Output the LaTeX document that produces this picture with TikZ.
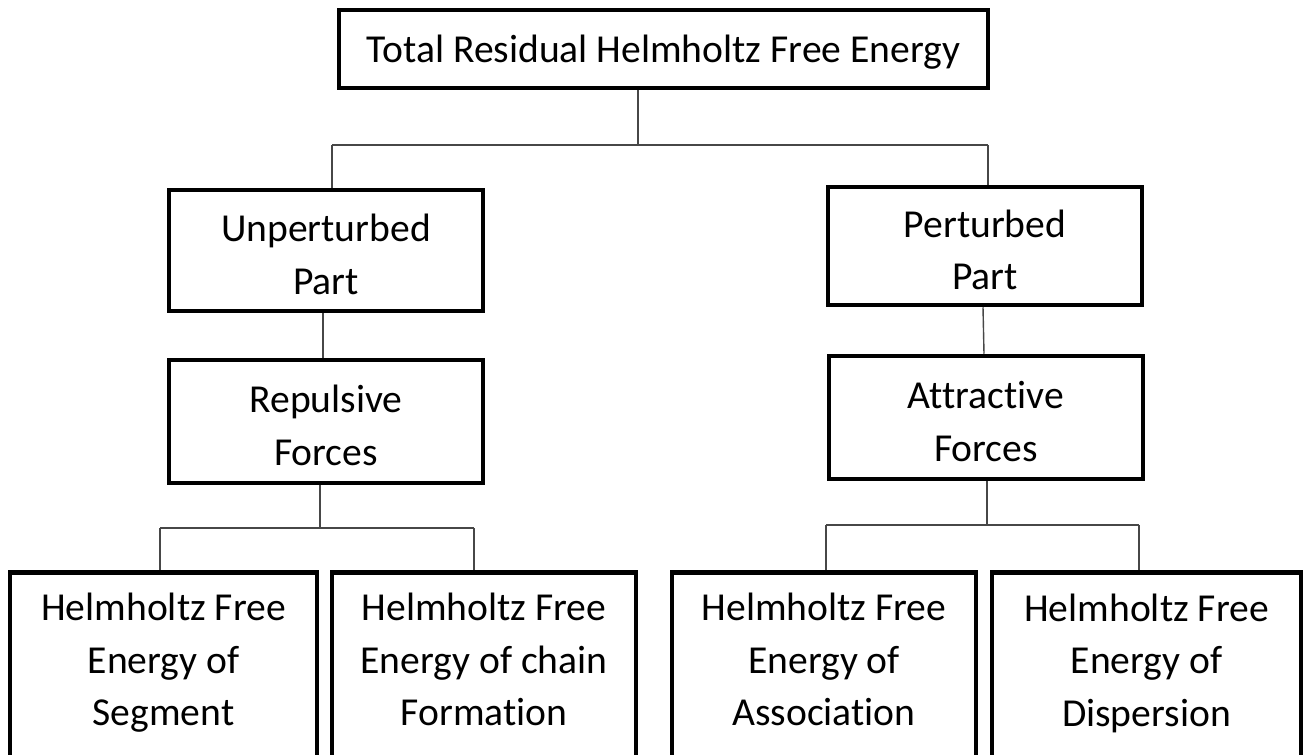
\documentclass[tikz,border=0pt]{standalone}
\usepackage{fontspec}
\setmainfont{Carlito}[Ligatures=NoCommon]
\begin{document}
\begin{tikzpicture}[x=1pt,y=-1pt,
  box/.style={draw=black, line width=4.5pt, fill=white, inner sep=0pt},
  lbl/.style={inner sep=0pt, align=center, font=\fontsize{39.6}{52.5}\selectfont},
  link/.style={draw=black!72, line width=1.4pt}]
\useasboundingbox (0,0) rectangle (1307,755);
\clip (0,0) rectangle (1307,755);
\fill[white] (0,0) rectangle (1307,755);

% root
\node[box, minimum width=649pt, minimum height=78pt] (total) at (663.5,49) {};

% second level
\node[box, minimum width=314pt, minimum height=121pt] (unpert) at (326,250.5) {};
\node[box, minimum width=314pt, minimum height=118pt] (pert) at (985,246) {};

% third level
\node[box, minimum width=314pt, minimum height=123pt] (rep) at (326,421.5) {};
\node[box, minimum width=314pt, minimum height=123pt] (attr) at (986,417.5) {};

% leaves (running past the lower edge)
\node[box, minimum width=307pt, minimum height=240pt, anchor=north] (seg) at (163.5,570) {};
\node[box, minimum width=304pt, minimum height=240pt, anchor=north] (chain) at (484,570) {};
\node[box, minimum width=304pt, minimum height=240pt, anchor=north] (assoc) at (824,570) {};
\node[box, minimum width=309pt, minimum height=240pt, anchor=north] (disp) at (1146.5,570) {};

% labels
\node[lbl] at ([yshift=-3pt]total.center) {Total Residual Helmholtz Free Energy};
\node[lbl] at ([yshift=-4pt]unpert.center) {Unperturbed\\Part};
\node[lbl] at ([yshift=-4pt]pert.center) {Perturbed\\Part};
\node[lbl] at ([yshift=-4pt]rep.center) {Repulsive\\Forces};
\node[lbl] at ([yshift=-4pt]attr.center) {Attractive\\Forces};
\node[lbl] at ([yshift=-93pt]seg.north) {Helmholtz Free\\Energy of\\Segment};
\node[lbl] at ([yshift=-93pt]chain.north) {Helmholtz Free\\Energy of chain\\Formation\vphantom{g}};
\node[lbl] at ([yshift=-93pt]assoc.north) {Helmholtz Free\\Energy of\\Association\vphantom{g}};
\node[lbl] at ([yshift=-93pt]disp.north) {Helmholtz Free\\Energy of\\Dispersion};

% branch points
\coordinate (t0) at (638,145);
\coordinate (tl) at (332,145);
\coordinate (tr) at (988,145);
\coordinate (r0) at (320,528);
\coordinate (rl) at (160,528);
\coordinate (rr) at (474,528);
\coordinate (a0) at (987,525);
\coordinate (al) at (826,525);
\coordinate (ar) at (1139,525);

% connectors
\draw[link] (total.south -| t0) -- (t0);
\draw[link] (tl) -- (tr);
\draw[link] (tl) -- (tl |- unpert.north);
\draw[link] (tr) -- (tr |- pert.north);

\draw[link] ([xshift=-3pt]unpert.south) -- ([xshift=-3pt]rep.north);
\draw[link] ([xshift=-2pt]pert.south) -- ([xshift=-2pt]attr.north);

\draw[link] (rep.south -| r0) -- (r0);
\draw[link] (rl) -- (rr);
\draw[link] (rl) -- (rl |- seg.north);
\draw[link] (rr) -- (rr |- chain.north);

\draw[link] (attr.south -| a0) -- (a0);
\draw[link] (al) -- (ar);
\draw[link] (al) -- (al |- assoc.north);
\draw[link] (ar) -- (ar |- disp.north);
\end{tikzpicture}
\end{document}
